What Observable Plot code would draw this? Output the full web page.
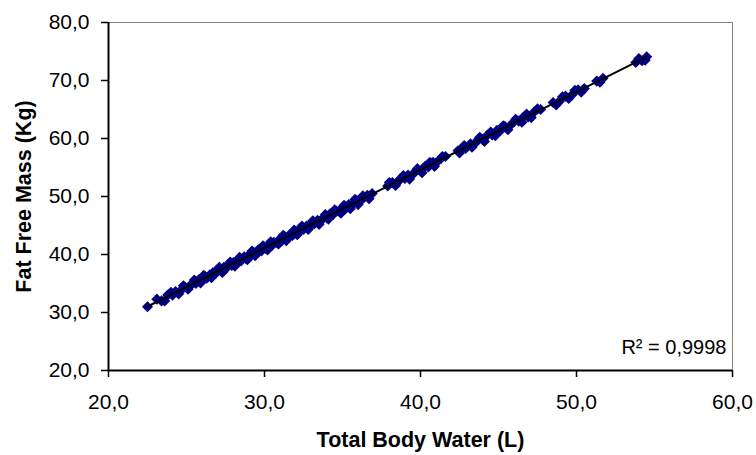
<!DOCTYPE html>
<html>
<head>
<meta charset="utf-8">
<script src="https://cdn.jsdelivr.net/npm/d3@7"></script>
<script src="https://cdn.jsdelivr.net/npm/@observablehq/plot@0.6"></script>
<style>
  html, body { margin: 0; padding: 0; background: #fff; }
  #chart svg { display: block; }
</style>
</head>
<body>
<div id="chart"></div>
<script>
// Total Body Water (L)
const tbw = [22.5, 23.4, 23.8, 24.1, 24.3, 24.6, 24.9, 25.2, 25.4, 25.6, 25.8, 26.0, 26.2, 26.3, 26.5, 26.7, 26.9, 27.0, 27.2, 27.4,
  27.5, 27.7, 27.9, 28.0, 28.2, 28.3, 28.5, 28.7, 28.8, 29.0, 29.1, 29.3, 29.5, 29.6, 29.8, 30.0, 30.1, 30.3, 30.5, 30.6,
  30.8, 31.0, 31.1, 31.3, 31.5, 31.6, 31.8, 32.0, 32.2, 32.3, 32.5, 32.7, 32.9, 33.0, 33.2, 33.4, 33.6, 33.8, 34.0, 34.2,
  34.4, 34.6, 34.8, 35.0, 35.2, 35.4, 35.6, 35.9, 36.1, 36.4, 36.6, 36.9, 37.9, 38.2, 38.5, 38.7, 39.0, 39.2, 39.5, 39.7,
  40.0, 40.3, 40.5, 40.8, 41.0, 41.3, 41.6, 42.4, 42.7, 42.9, 43.2, 43.5, 43.7, 44.0, 44.3, 44.6, 44.9, 45.1, 45.4, 45.7,
  46.0, 46.3, 46.6, 46.9, 47.3, 47.7, 48.5, 48.9, 49.3, 49.7, 50.1, 50.5, 51.3, 51.7, 53.8, 54.2, 54.5,
  23.1, 23.6, 24.0, 24.5, 24.8, 25.1, 25.5, 25.9, 26.1, 26.6, 27.1, 27.3, 27.8, 28.1, 28.4, 28.9, 29.2, 29.4, 29.9, 30.2,
  30.4, 30.9, 31.2, 31.4, 31.9, 32.1, 32.4, 32.8, 33.1, 33.5, 33.9, 34.1, 34.5, 34.9, 35.1, 35.5, 35.8, 36.0, 36.3, 36.7,
  38.0, 38.4, 38.9, 39.3, 39.8, 40.1, 40.6, 40.9, 41.4, 42.5, 42.8, 43.3, 43.8, 44.1, 44.5, 44.8, 45.3, 45.6, 46.1, 46.5,
  46.8, 47.1, 47.5, 48.7, 49.1, 49.5, 49.9, 50.3, 51.5, 54.0, 54.4];
// Fat Free Mass (Kg)
const ffm = [31.0, 32.0, 33.0, 33.0, 33.6, 33.7, 34.4, 34.5, 35.1, 35.0, 35.7, 35.6, 36.2, 35.9, 36.5, 36.9, 36.8, 37.3, 37.2, 37.8,
  37.5, 38.2, 38.1, 38.6, 38.5, 39.0, 38.9, 39.6, 39.3, 39.9, 39.7, 40.4, 40.3, 40.8, 40.6, 41.3, 41.0, 41.7, 41.6, 42.1,
  42.0, 42.7, 42.4, 43.1, 42.9, 43.4, 43.3, 44.0, 43.9, 44.4, 44.3, 44.9, 44.8, 45.4, 45.3, 45.9, 45.8, 46.4, 46.3, 47.0,
  46.9, 47.5, 47.4, 48.1, 47.9, 48.6, 48.5, 49.3, 49.1, 49.9, 50.2, 50.5, 51.8, 52.4, 52.4, 53.0, 53.1, 53.7, 53.8, 54.4,
  54.4, 55.2, 55.1, 55.9, 55.8, 56.5, 56.9, 57.9, 58.4, 58.3, 59.1, 59.2, 59.8, 59.8, 60.6, 60.6, 61.4, 61.3, 62.1, 62.1,
  62.9, 63.0, 63.7, 63.7, 64.6, 65.0, 66.2, 66.4, 67.3, 67.5, 68.4, 68.6, 69.9, 70.4, 73.1, 73.4, 74.1,
  32.3, 32.0, 33.5, 33.2, 34.6, 34.0, 35.6, 35.1, 36.4, 36.0, 37.8, 36.9, 38.7, 38.0, 39.5, 39.1, 40.6, 39.8, 41.5, 40.8,
  42.2, 41.8, 43.3, 42.4, 44.2, 43.4, 44.9, 44.3, 45.8, 45.2, 46.9, 46.1, 47.7, 47.1, 48.5, 47.9, 49.5, 48.6, 50.1, 49.6,
  52.4, 51.9, 53.6, 53.0, 54.8, 54.1, 55.9, 55.2, 56.9, 57.5, 58.8, 58.5, 60.2, 59.5, 61.1, 60.5, 62.2, 61.5, 63.3, 62.8,
  64.2, 63.6, 65.1, 65.8, 67.2, 66.9, 68.3, 68.0, 69.7, 73.8, 73.5];

const xTicks = [20, 30, 40, 50, 60];
const yTicks = [20, 30, 40, 50, 60, 70, 80];
const xTitle = "Total Body Water (L)";
const yTitle = "Fat Free Mass (Kg)";
const r2Label = "R² = 0,9998";

const rows = tbw.map((x, i) => ({x, y: ffm[i]}));
const fmt = d => d.toFixed(1).replace(".", ",");

const chart = Plot.plot({
  width: 756,
  height: 455,
  marginLeft: 108,
  marginRight: 24,
  marginTop: 22,
  marginBottom: 85,
  style: {fontFamily: "'Liberation Sans', Arial, sans-serif", fontSize: "21px", color: "#000", background: "#fff"},
  x: {domain: [20, 60]},
  y: {domain: [20, 80]},
  marks: [
    Plot.ruleY([80], {stroke: "#808080", strokeWidth: 1}),
    Plot.ruleX([60], {stroke: "#808080", strokeWidth: 1}),
    Plot.dot(rows, {x: "x", y: "y", symbol: "diamond2", r: 5, fill: "#000080", stroke: "none"}),
    Plot.linearRegressionY(rows, {x: "x", y: "y", stroke: "#000", strokeWidth: 2, ci: 0}),
    Plot.ruleX([20], {stroke: "#000", strokeWidth: 2}),
    Plot.ruleY([20], {stroke: "#000", strokeWidth: 2}),
    Plot.axisX({ticks: xTicks, tickFormat: fmt, tickSize: 7, tickPadding: 17, strokeWidth: 1.5, label: null, fontSize: 21}),
    Plot.axisY({ticks: yTicks, tickFormat: fmt, tickSize: 7, tickPadding: 12, strokeWidth: 1.5, label: null, fontSize: 21}),
    Plot.text([xTitle], {frameAnchor: "bottom", dy: 70, lineAnchor: "middle", textAnchor: "middle", fontWeight: "bold", fontSize: 21.5}),
    Plot.text([yTitle], {frameAnchor: "left", dx: -84, rotate: -90, lineAnchor: "middle", textAnchor: "middle", fontWeight: "bold", fontSize: 21.5}),
    Plot.text([r2Label], {frameAnchor: "bottom-right", dx: -6, dy: -17, lineAnchor: "bottom", textAnchor: "end", fontSize: 20})
  ]
});
document.getElementById("chart").append(chart);
</script>
</body>
</html>
